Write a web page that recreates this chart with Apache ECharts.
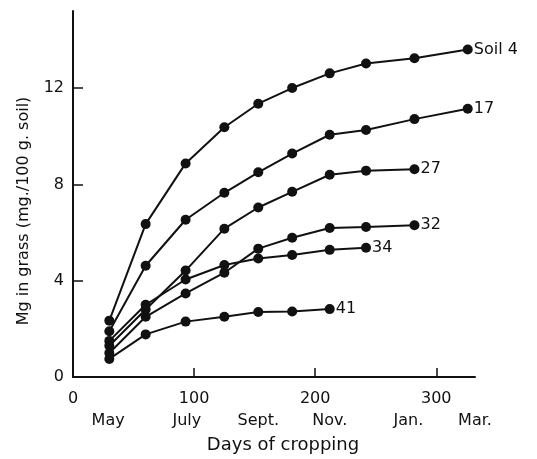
<!DOCTYPE html>
<html>
<head>
<meta charset="utf-8">
<script src="https://cdn.jsdelivr.net/npm/echarts@6/dist/echarts.min.js"></script>
<style>
  html, body { margin: 0; padding: 0; background: #fff; }
  #chart { width: 537px; height: 459px; }
</style>
</head>
<body>
<div id="chart"></div>
<script>
// sampling days (days of cropping)
const days = [30, 60, 93, 125, 153, 181, 212, 242, 282, 326]

// Mg in grass, mg / 100 g soil
const soil4 = [2.34, 6.35, 8.87, 10.37, 11.35, 12.0, 12.61, 13.02, 13.24, 13.6]
const soil17 = [1.9, 4.62, 6.53, 7.65, 8.5, 9.28, 10.06, 10.26, 10.71, 11.14]
const soil27 = [1.3, 2.8, 4.42, 6.16, 7.04, 7.69, 8.4, 8.57, 8.63]
const soil32 = [1.0, 2.5, 3.47, 4.33, 5.33, 5.78, 6.19, 6.23, 6.3]
const soil34 = [1.5, 3.0, 4.05, 4.65, 4.92, 5.07, 5.28, 5.37]
const soil41 = [0.75, 1.77, 2.3, 2.5, 2.7, 2.72, 2.82]

const seriesNames = ['Soil 4', '17', '27', '32', '34', '41']
const seriesValues = [soil4, soil17, soil27, soil32, soil34, soil41]

const xTicks = [0, 100, 200, 300]
const yTicks = [0, 4, 8, 12]
const monthNames = ['May', 'July', 'Sept.', 'Nov.', 'Jan.', 'Mar.']
const monthDays = [29, 94, 153, 212, 277, 332]

const font = '"DejaVu Sans", sans-serif'
const ink = '#111'

const series = seriesNames.map((name, i) => {
  return {
    name: name,
    type: 'line',
    data: seriesValues[i].map((v, j) => [days[j], v]),
    symbol: 'circle',
    symbolSize: 10,
    lineStyle: { color: ink, width: 2 },
    itemStyle: { color: ink },
    endLabel: {
      show: true,
      formatter: name,
      color: ink,
      fontFamily: font,
      fontSize: 16,
      distance: 6,
    },
    animation: false,
  }
})

const chart = echarts.init(document.getElementById('chart'))
chart.setOption({
  backgroundColor: '#fff',
  animation: false,
  grid: { left: 73, right: 62, top: 11, bottom: 76 },
  xAxis: [
    {
      type: 'value',
      min: 0,
      max: 332,
      name: 'Days of cropping',
      nameLocation: 'middle',
      nameGap: 59,
      nameTextStyle: { color: ink, fontFamily: font, fontSize: 18, padding: [0, 0, 0, 18] },
      splitLine: { show: false },
      axisLine: { lineStyle: { color: ink, width: 2 } },
      axisTick: {
        inside: true,
        length: 9,
        lineStyle: { color: ink, width: 1.5 },
        customValues: xTicks.slice(1),
      },
      axisLabel: {
        color: ink,
        fontFamily: font,
        fontSize: 16,
        margin: 14,
        customValues: xTicks,
      },
    },
    {
      // month names below the day numbers
      type: 'value',
      position: 'bottom',
      offset: 27,
      min: 0,
      max: 332,
      splitLine: { show: false },
      axisLine: { show: false },
      axisTick: { show: false },
      axisLabel: {
        color: ink,
        fontFamily: font,
        fontSize: 16,
        margin: 9,
        customValues: monthDays,
        formatter: (v) => monthNames[monthDays.indexOf(v)],
      },
    },
  ],
  yAxis: {
    type: 'value',
    min: 0,
    max: 15.2,
    name: 'Mg in grass (mg./100 g. soil)',
    nameLocation: 'middle',
    nameGap: 41,
    nameRotate: 90,
    nameTextStyle: { color: ink, fontFamily: font, fontSize: 16, padding: [0, 34, 0, 0] },
    splitLine: { show: false },
    axisLine: { show: true, lineStyle: { color: ink, width: 2 } },
    axisTick: {
      show: true,
      inside: true,
      length: 10,
      lineStyle: { color: ink, width: 1.5 },
      customValues: yTicks.slice(1),
    },
    axisLabel: {
      color: ink,
      fontFamily: font,
      fontSize: 16,
      margin: 9,
      customValues: yTicks,
    },
  },
  series: series,
})
</script>
</body>
</html>
